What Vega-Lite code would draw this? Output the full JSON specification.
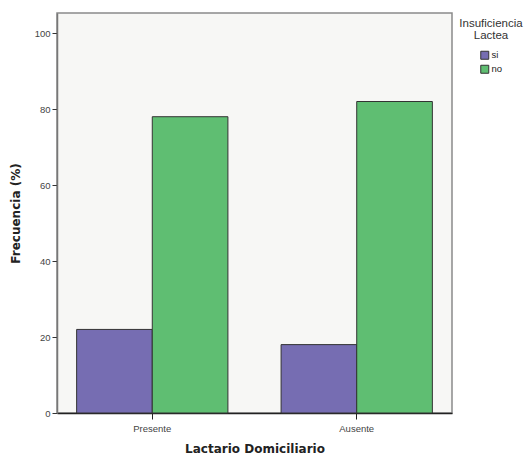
{
  "$schema": "https://vega.github.io/schema/vega-lite/v6.json",
  "autosize": "none",
  "width": 395,
  "height": 400,
  "padding": {"left": 57, "top": 13, "right": 79, "bottom": 43},
  "background": "white",
  "config": {
    "font": "Liberation Sans",
    "view": {"fill": "#F7F7F5", "stroke": "#8a8a8a", "strokeWidth": 1.5}
  },
  "data": {
    "values": [
      {"lactario": "Presente", "insuficiencia": "si", "frecuencia": 22},
      {"lactario": "Presente", "insuficiencia": "no", "frecuencia": 78},
      {"lactario": "Ausente", "insuficiencia": "si", "frecuencia": 18},
      {"lactario": "Ausente", "insuficiencia": "no", "frecuencia": 82}
    ]
  },
  "mark": {"type": "bar", "stroke": "#333333", "strokeWidth": 1},
  "encoding": {
    "x": {
      "field": "lactario",
      "type": "nominal",
      "sort": ["Presente", "Ausente"],
      "scale": {"paddingInner": 0.26, "paddingOuter": 0.096},
      "axis": {
        "title": "Lactario Domiciliario",
        "titleFont": "DejaVu Sans",
        "titleFontSize": 12,
        "titleFontWeight": "bold",
        "titleColor": "#222",
        "titlePadding": 11,
        "labelAngle": 0,
        "labelFontSize": 9.5,
        "labelColor": "#444",
        "labelPadding": 4,
        "domainColor": "#222",
        "domainWidth": 1.5,
        "tickColor": "#222",
        "tickSize": 6,
        "grid": false
      }
    },
    "xOffset": {
      "field": "insuficiencia",
      "type": "nominal",
      "sort": ["si", "no"],
      "scale": {"paddingInner": 0, "paddingOuter": 0}
    },
    "y": {
      "field": "frecuencia",
      "type": "quantitative",
      "scale": {"domain": [0, 105.3], "nice": false},
      "axis": {
        "title": "Frecuencia (%)",
        "titleFont": "DejaVu Sans",
        "titleFontSize": 12,
        "titleFontWeight": "bold",
        "titleColor": "#222",
        "titlePadding": 12,
        "values": [0, 20, 40, 60, 80, 100],
        "labelFontSize": 9.5,
        "labelColor": "#444",
        "labelPadding": 2,
        "domainColor": "#777",
        "domainWidth": 1.5,
        "tickColor": "#333",
        "tickSize": 5,
        "grid": false
      }
    },
    "color": {
      "field": "insuficiencia",
      "type": "nominal",
      "sort": ["si", "no"],
      "scale": {"domain": ["si", "no"], "range": ["#766DB2", "#5FBE72"]},
      "legend": {
        "title": ["Insuficiencia", "Lactea"],
        "orient": "none",
        "legendX": 402,
        "legendY": 5,
        "titleFontSize": 11.5,
        "titleFontWeight": "normal",
        "titleColor": "#333",
        "titleAlign": "center",
        "titleAnchor": "middle",
        "titleLineHeight": 12,
        "titlePadding": 9,
        "labelFontSize": 9.5,
        "labelColor": "#222",
        "labelOffset": 2,
        "symbolType": "square",
        "symbolSize": 64,
        "symbolStrokeColor": "#333",
        "symbolStrokeWidth": 1,
        "rowPadding": 1,
        "offset": 0
      }
    }
  }
}
